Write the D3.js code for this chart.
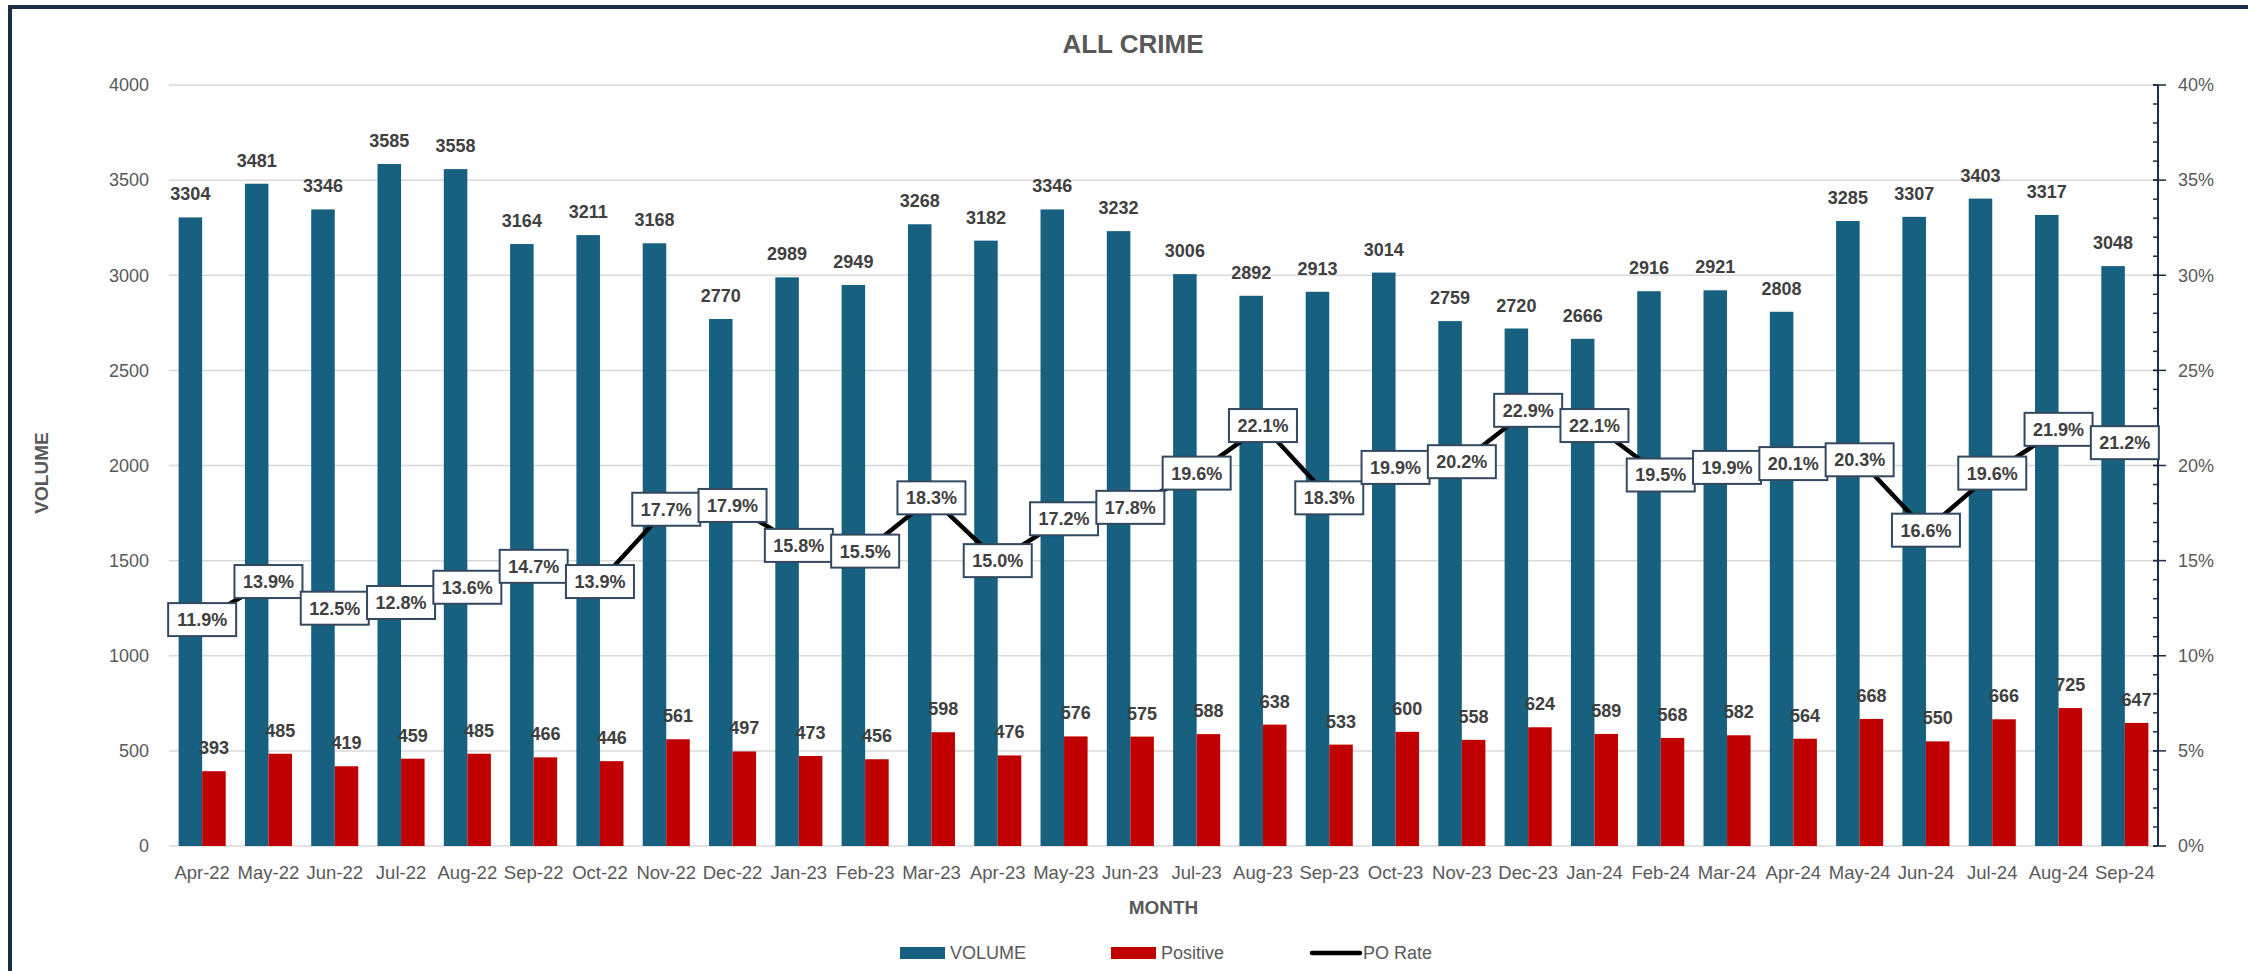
<!DOCTYPE html>
<html><head><meta charset="utf-8">
<script src="https://cdn.jsdelivr.net/npm/d3@7"></script>
<style>
body{margin:0;background:#fff}
svg{display:block;font-family:"Liberation Sans",Arial,sans-serif}
</style></head>
<body><svg id="c" width="2248" height="971"></svg>
<script>
const months=["Apr-22","May-22","Jun-22","Jul-22","Aug-22","Sep-22","Oct-22","Nov-22","Dec-22","Jan-23","Feb-23","Mar-23","Apr-23","May-23","Jun-23","Jul-23","Aug-23","Sep-23","Oct-23","Nov-23","Dec-23","Jan-24","Feb-24","Mar-24","Apr-24","May-24","Jun-24","Jul-24","Aug-24","Sep-24"];
const volume=[3304,3481,3346,3585,3558,3164,3211,3168,2770,2989,2949,3268,3182,3346,3232,3006,2892,2913,3014,2759,2720,2666,2916,2921,2808,3285,3307,3403,3317,3048];
const positive=[393,485,419,459,485,466,446,561,497,473,456,598,476,576,575,588,638,533,600,558,624,589,568,582,564,668,550,666,725,647];
const poRate=[11.9,13.9,12.5,12.8,13.6,14.7,13.9,17.7,17.9,15.8,15.5,18.3,15.0,17.2,17.8,19.6,22.1,18.3,19.9,20.2,22.9,22.1,19.5,19.9,20.1,20.3,16.6,19.6,21.9,21.2];
const leftTicks=[0,500,1000,1500,2000,2500,3000,3500,4000];
const rightTicks=[0,5,10,15,20,25,30,35,40];
const minorTicks=d3.range(0,41,1);
const seriesNames=["VOLUME","Positive","PO Rate"];

const C={blue:"#17607f",red:"#c00000",grid:"#d9d9d9",text:"#595959",label:"#404040",navy:"#1b2d47",box:"#34495f"};
const L=169,R=2158,T=85,B=846;
const svg=d3.select("#c");

svg.append("rect").attr("x",10).attr("y",7).attr("width",2300).attr("height",1000)
  .attr("fill","#fff").attr("stroke",C.navy).attr("stroke-width",4);

const x=d3.scaleBand().domain(months).range([L,R]).paddingInner(0.29).paddingOuter(0.145);
const xs=d3.scaleBand().domain(["v","p"]).range([0,x.bandwidth()]).padding(0);
const y=d3.scaleLinear().domain([0,4000]).range([B,T]);
const yR=d3.scaleLinear().domain([0,40]).range([B,T]);

// gridlines
svg.append("g").selectAll("line").data(leftTicks).join("line")
  .attr("x1",L).attr("x2",R).attr("y1",d=>y(d)).attr("y2",d=>y(d))
  .attr("stroke",C.grid).attr("stroke-width",1.5);

// left axis labels
const ax=svg.append("g").attr("transform",`translate(${L},0)`)
  .call(d3.axisLeft(y).tickValues(leftTicks).tickSize(0).tickPadding(20).tickFormat(d3.format("d")));
ax.select(".domain").remove();
ax.selectAll("text").attr("fill",C.text).style("font-size","18px").style("font-family","Liberation Sans, Arial");

// bottom axis labels
const bx=svg.append("g").attr("transform",`translate(0,${B})`)
  .call(d3.axisBottom(x).tickSize(0).tickPadding(20));
bx.select(".domain").remove();
bx.selectAll("text").attr("fill",C.text).style("font-size","18.5px").style("font-family","Liberation Sans, Arial");

// right axis
const rx=svg.append("g").attr("transform",`translate(${R},0)`);
rx.append("line").attr("y1",T).attr("y2",B).attr("stroke",C.navy).attr("stroke-width",2);
rx.selectAll(".mn").data(minorTicks).join("line").attr("class","mn")
  .attr("x1",-5).attr("x2",0).attr("y1",d=>yR(d)).attr("y2",d=>yR(d)).attr("stroke",C.navy).attr("stroke-width",1.5);
rx.selectAll(".mj").data(rightTicks).join("line").attr("class","mj")
  .attr("x1",-5).attr("x2",8).attr("y1",d=>yR(d)).attr("y2",d=>yR(d)).attr("stroke",C.navy).attr("stroke-width",1.5);
rx.selectAll("text").data(rightTicks).join("text")
  .attr("x",20).attr("y",d=>yR(d)).attr("dy","0.35em")
  .attr("fill",C.text).style("font-size","18px").text(d=>d+"%");

// bars
const g=svg.append("g");
g.selectAll(".bv").data(months).join("rect").attr("class","bv")
  .attr("x",(m)=>x(m)+xs("v")).attr("width",xs.bandwidth())
  .attr("y",(m,i)=>y(volume[i])).attr("height",(m,i)=>B-y(volume[i]))
  .attr("fill",C.blue);
g.selectAll(".bp").data(months).join("rect").attr("class","bp")
  .attr("x",(m)=>x(m)+xs("p")).attr("width",xs.bandwidth())
  .attr("y",(m,i)=>y(positive[i])).attr("height",(m,i)=>B-y(positive[i]))
  .attr("fill",C.red);

// bar labels
g.selectAll(".lv").data(months).join("text").attr("class","lv")
  .attr("x",m=>x(m)+xs("v")+xs.bandwidth()/2).attr("y",(m,i)=>y(volume[i])-17)
  .attr("text-anchor","middle").attr("fill",C.label).style("font-size","18px").style("font-weight","bold")
  .text((m,i)=>volume[i]);
g.selectAll(".lp").data(months).join("text").attr("class","lp")
  .attr("x",m=>x(m)+xs("p")+xs.bandwidth()/2).attr("y",(m,i)=>y(positive[i])-17)
  .attr("text-anchor","middle").attr("fill",C.label).style("font-size","18px").style("font-weight","bold")
  .text((m,i)=>positive[i]);

// PO Rate line
const cx=m=>x(m)+x.bandwidth()/2;
const line=d3.line().x((d,i)=>cx(months[i])).y(d=>yR(d));
svg.append("path").datum(poRate).attr("d",line).attr("fill","none")
  .attr("stroke","#000").attr("stroke-width",4.5).attr("stroke-linejoin","round");

// PO labels
const bw=68,bh=33;
const lg=svg.append("g").selectAll("g").data(poRate).join("g")
  .attr("transform",(d,i)=>`translate(${cx(months[i])},${yR(d)})`);
lg.append("rect").attr("x",-bw/2).attr("y",-bh/2).attr("width",bw).attr("height",bh)
  .attr("fill","#fff").attr("stroke",C.box).attr("stroke-width",2);
lg.append("text").attr("text-anchor","middle").attr("dy","0.36em")
  .attr("fill",C.label).style("font-size","18px").style("font-weight","bold")
  .text(d=>d.toFixed(1)+"%");

// titles
svg.append("text").attr("x",1133).attr("y",53).attr("text-anchor","middle")
  .attr("fill",C.text).style("font-size","26px").style("font-weight","bold").text("ALL CRIME");
svg.append("text").attr("transform","translate(48,473) rotate(-90)").attr("text-anchor","middle")
  .attr("fill",C.text).style("font-size","19px").style("font-weight","bold").text("VOLUME");
svg.append("text").attr("x",(L+R)/2).attr("y",914).attr("text-anchor","middle")
  .attr("fill",C.text).style("font-size","19px").style("font-weight","bold").text("MONTH");

// legend
const legX=[900,1111,1312];
const leg=svg.append("g").selectAll("g").data(seriesNames).join("g")
  .attr("transform",(d,i)=>`translate(${legX[i]},953)`);
leg.each(function(d,i){
  const s=d3.select(this);
  if(i<2){
    s.append("rect").attr("x",0).attr("y",-6).attr("width",45).attr("height",12).attr("fill",i===0?C.blue:C.red);
  }else{
    s.append("line").attr("x1",0).attr("x2",48).attr("y1",0).attr("y2",0).attr("stroke","#000").attr("stroke-width",4.5).attr("stroke-linecap","round");
  }
  s.append("text").attr("x",i<2?50:51).attr("dy","0.36em").attr("fill",C.text).style("font-size","18px").text(d);
});
</script></body></html>
